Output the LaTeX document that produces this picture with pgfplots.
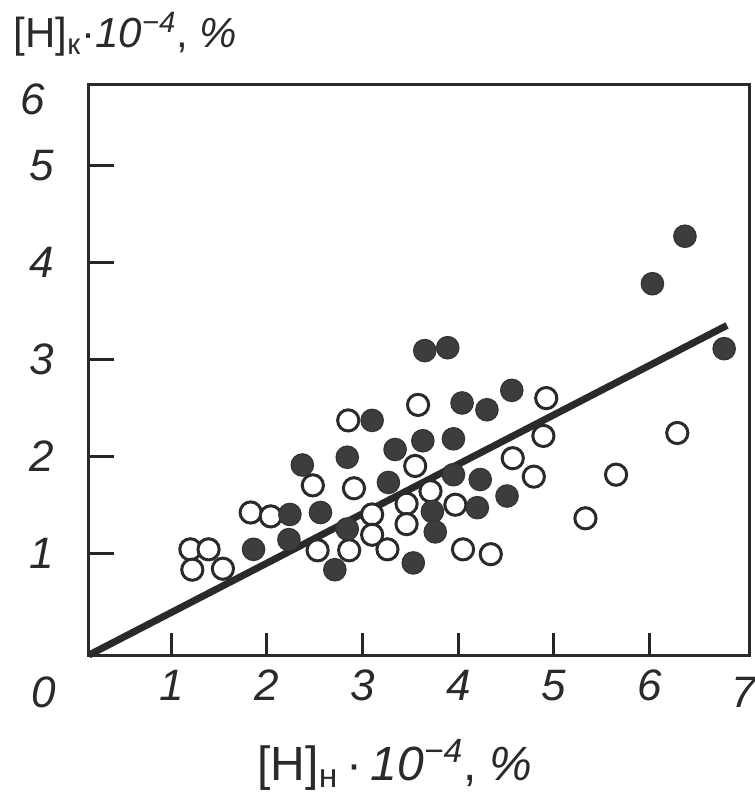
\documentclass[border=0pt]{standalone}
\usepackage{fontspec}
\setmainfont{Liberation Sans}
\usepackage{pgfplots}
\pgfplotsset{compat=1.18}
\usetikzlibrary{calc}
\definecolor{ink}{HTML}{2A2A2A}
\begin{document}
\begin{tikzpicture}
\begin{axis}[name=ax, scale only axis, width=330.5pt, height=285pt,
  xmin=0.14, xmax=7.05, ymin=-0.05, ymax=5.83,
  axis line style={line width=1.5pt, draw=ink},
  every tick/.style={draw=black!85, line width=1.5pt},
  xtick={1,2,3,4,5,6}, ytick={1,2,3,4,5},
  tick align=inside, tick pos=left,
  major tick length=11pt,
  /pgf/number format/assume math mode=true,
  ticklabel style={font=\fontsize{22}{26}\selectfont\itshape, text=ink},
  xticklabel style={yshift=-4pt},
  yticklabel style={xshift=-14pt},
  clip=false]
\addplot[line width=3.5pt, ink] coordinates {(0.14,-0.05) (6.81,3.35)};
% open circles
\addplot[only marks, mark=*, mark size=5.3pt, mark options={fill=white, draw=ink, line width=1.5pt}] coordinates {
(1.20,1.04) (1.39,1.04) (1.22,0.83) (1.54,0.84) (1.83,1.42) (2.04,1.38)
(2.48,1.70) (2.53,1.03) (2.85,2.37) (2.91,1.67) (2.86,1.03) (3.10,1.40)
(3.10,1.19) (3.26,1.04) (3.46,1.51) (3.46,1.30) (3.55,1.90) (3.58,2.53)
(3.71,1.64) (3.97,1.50) (4.05,1.04) (4.34,0.99) (4.57,1.98) (4.79,1.79)
(4.89,2.21) (4.92,2.60) (5.33,1.36) (5.65,1.81) (6.29,2.24)};
% filled circles
\addplot[only marks, mark=*, mark size=5.6pt, mark options={fill=black!76, draw=black!80, line width=0.6pt}] coordinates {
(1.86,1.04) (2.23,1.14) (2.24,1.40) (2.37,1.91) (2.56,1.42) (2.71,0.83)
(2.84,1.25) (2.84,1.99) (3.10,2.37) (3.27,1.73) (3.34,2.07) (3.53,0.90)
(3.63,2.16) (3.65,3.09) (3.89,3.12) (3.73,1.43) (3.76,1.22) (3.95,2.18)
(3.95,1.81) (4.04,2.55) (4.20,1.47) (4.23,1.76) (4.30,2.48) (4.51,1.59)
(4.56,2.68) (6.03,3.78) (6.37,4.27) (6.78,3.11)};
\draw[draw=black!85, line width=1.5pt]
  (axis cs:1,-0.05) -- (axis cs:1,0.07) (axis cs:2,-0.05) -- (axis cs:2,0.07)
  (axis cs:3,-0.05) -- (axis cs:3,0.07) (axis cs:4,-0.05) -- (axis cs:4,0.07)
  (axis cs:5,-0.05) -- (axis cs:5,0.07) (axis cs:6,-0.05) -- (axis cs:6,0.07)
  (axis cs:0.14,1) -- (axis cs:0.40,1) (axis cs:0.14,2) -- (axis cs:0.40,2)
  (axis cs:0.14,3) -- (axis cs:0.40,3) (axis cs:0.14,4) -- (axis cs:0.40,4)
  (axis cs:0.14,5) -- (axis cs:0.40,5);
\node[font=\fontsize{22}{26}\selectfont\itshape, text=ink] at (axis cs:-0.33,-0.44) {0};
\node[font=\fontsize{22}{26}\selectfont\itshape, text=ink] at (axis cs:6.98,-0.44) {7};
\node[font=\fontsize{22}{26}\selectfont\itshape, text=ink] at (axis cs:-0.45,5.68) {6};
\node[font=\fontsize{21}{26}\selectfont, text=ink] at (axis cs:0.52,6.35)
  {[H]\textsubscript{к}·\textit{10}\textsuperscript{\textit{−4}}, \textit{\%}};
\node[font=\fontsize{24}{28}\selectfont, text=ink] at (axis cs:3.34,-1.18)
  {[H]\textsubscript{н}\,·\,\textit{10}\textsuperscript{\textit{−4}}, \textit{\%}};
\end{axis}
\pgfresetboundingbox
\path[use as bounding box] ($(ax.south west)+(-44.5pt,-69pt)$) rectangle ($(ax.north east)+(2.5pt,42.5pt)$);
\end{tikzpicture}
\end{document}
